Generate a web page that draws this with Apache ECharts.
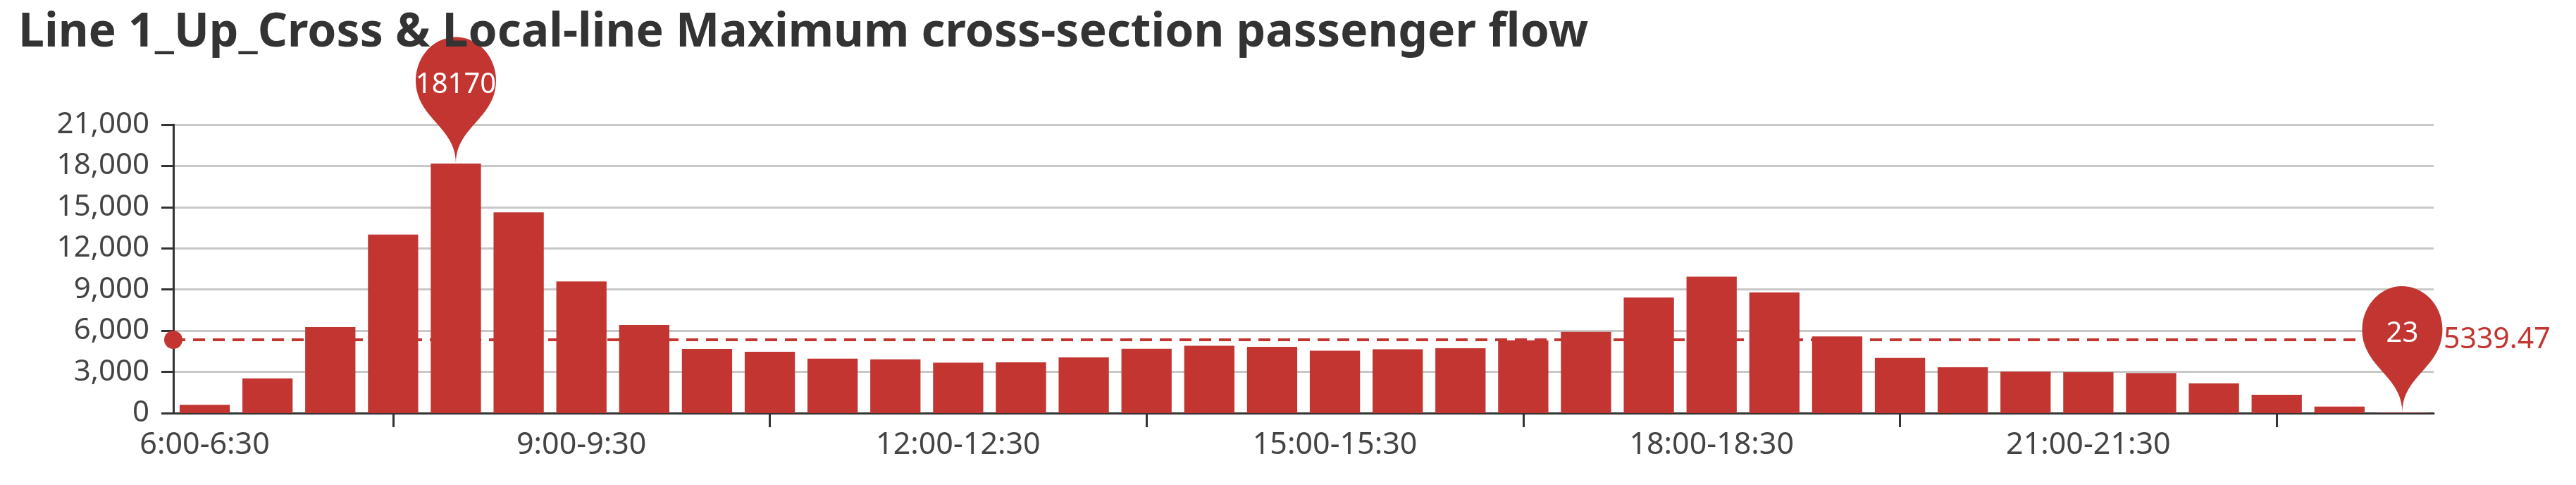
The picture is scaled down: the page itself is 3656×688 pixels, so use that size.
<!DOCTYPE html>
<html><head><meta charset="utf-8">
<script src="https://cdn.jsdelivr.net/npm/echarts@6/dist/echarts.min.js"></script>
<style>html,body{margin:0;padding:0;background:#fff}#c{width:3656px;height:688px}</style>
</head><body><div id="c"></div>
<script>
const titleText = 'Line 1_Up_Cross & Local-line Maximum cross-section passenger flow';
const categories = [
  '6:00-6:30','6:30-7:00','7:00-7:30','7:30-8:00','8:00-8:30','8:30-9:00',
  '9:00-9:30','9:30-10:00','10:00-10:30','10:30-11:00','11:00-11:30','11:30-12:00',
  '12:00-12:30','12:30-13:00','13:00-13:30','13:30-14:00','14:00-14:30','14:30-15:00',
  '15:00-15:30','15:30-16:00','16:00-16:30','16:30-17:00','17:00-17:30','17:30-18:00',
  '18:00-18:30','18:30-19:00','19:00-19:30','19:30-20:00','20:00-20:30','20:30-21:00',
  '21:00-21:30','21:30-22:00','22:00-22:30','22:30-23:00','23:00-23:30','23:30-24:00'
];
const flowValues = [
  600, 2530, 6270, 13008, 18170, 14620,
  9590, 6420, 4670, 4470, 3970, 3920,
  3670, 3700, 4060, 4690, 4900, 4820,
  4540, 4650, 4720, 5300, 5920, 8420,
  9940, 8790, 5590, 4020, 3340, 3020,
  2980, 2920, 2170, 1330, 470, 23
];
const yMin = 0, yMax = 21000, yInterval = 3000;

const RED = '#c23531';
const FONT = 'Noto Sans';
const chart = echarts.init(document.getElementById('c'));
chart.setOption({
  animation: false,
  backgroundColor: '#fff',
  title: {
    text: titleText, left: 26, top: 14, padding: 0,
    textStyle: { fontFamily: FONT, fontSize: 66, fontWeight: 'bold', color: '#333' }
  },
  grid: { left: 246, right: 202, top: 177, bottom: 102, containLabel: false },
  xAxis: {
    type: 'category', data: categories, boundaryGap: true,
    axisLine: { show: true, lineStyle: { color: '#333', width: 3 } },
    axisTick: { show: true, alignWithLabel: true, length: 20, lineStyle: { color: '#333', width: 3 },
      interval: function (i) { return i % 6 === 3; } },
    axisLabel: { interval: 5, margin: 24, fontFamily: FONT, fontSize: 43, color: '#444' },
    splitLine: { show: false }
  },
  yAxis: {
    type: 'value', min: yMin, max: yMax, interval: yInterval,
    axisLine: { show: true, lineStyle: { color: '#333', width: 3 } },
    axisTick: { show: true, length: 17, lineStyle: { color: '#333', width: 3 } },
    axisLabel: { margin: 34, fontFamily: FONT, fontSize: 42, color: '#444',
      formatter: function (v) { return v.toLocaleString('en-US'); } },
    splitLine: { show: true, lineStyle: { color: '#c8c8c8', width: 3 } }
  },
  series: [{
    type: 'bar', data: flowValues, barCategoryGap: '20%',
    itemStyle: { color: RED },
    markPoint: {
      symbol: 'pin', symbolSize: [190, 206],
      itemStyle: { color: RED },
      label: { color: '#fff', fontFamily: FONT, fontSize: 40, offset: [0, -4] },
      data: [{ type: 'max', name: 'max' }, { type: 'min', name: 'min' }]
    },
    markLine: {
      symbol: ['circle', 'arrow'], symbolSize: [26, 26],
      precision: 2,
      lineStyle: { color: RED, width: 4, type: [17, 11] },
      label: { position: 'end', color: RED, fontFamily: FONT, fontSize: 41, distance: 14 },
      data: [{ type: 'average', name: 'avg' }]
    }
  }]
});
</script></body></html>
